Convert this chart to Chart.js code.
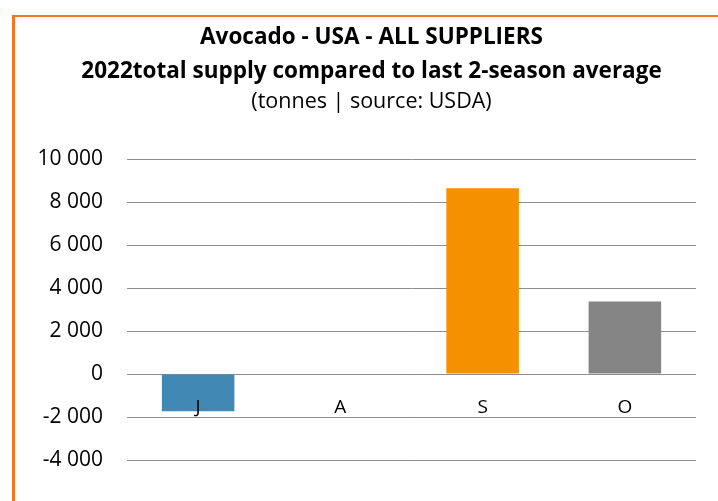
<!DOCTYPE html>
<html>
<head>
<meta charset="utf-8">
<script src="https://cdn.jsdelivr.net/npm/chart.js@4"></script>
<style>
  html, body { margin: 0; padding: 0; background: #ffffff; }
  body { width: 718px; height: 501px; position: relative; overflow: hidden; }
  #frame {
    position: absolute; left: 12px; top: 15px;
    width: 703px; height: 484px;
    border-left: 3px solid #F5761F; border-top: 2px solid #F5761F;
  }
  #c { display: block; }
</style>
</head>
<body>
<div id="frame"><canvas id="c" width="703" height="484"></canvas></div>
<script>
const titleLines = ['Avocado - USA - ALL SUPPLIERS', '2022total supply compared to last 2-season average'];
const subtitleText = '(tonnes | source: USDA)';
const categories = ['J', 'A', 'S', 'O'];
const values = [-1730, 0, 8650, 3380];
const barColors = ['#4189B4', '#4189B4', '#F59100', '#858585'];
const yTicks = [-4000, -2000, 0, 2000, 4000, 6000, 8000, 10000];

const fontFamily = "'Open Sans', sans-serif";
const fmt = v => String(Math.abs(v)).replace(/\B(?=(\d{3})+(?!\d))/g, ' ');

// The original chart's title block is centred over a slightly wider frame
const shiftTitles = {
  id: 'shiftTitles',
  afterLayout(chart) {
    chart.boxes.forEach(b => {
      if (!b.axis && b.options && 'text' in b.options) { b.left += 16; b.right += 16; }
    });
  }
};

new Chart(document.getElementById('c'), {
  type: 'bar',
  data: {
    labels: categories,
    datasets: [{
      data: values,
      backgroundColor: barColors,
      borderWidth: 0,
      barPercentage: 0.51,
      categoryPercentage: 1.0
    }]
  },
  plugins: [shiftTitles],
  options: {
    responsive: false,
    animation: false,
    layout: { padding: { left: 0, right: 22, top: 0, bottom: 41 } },
    plugins: {
      legend: { display: false },
      tooltip: { enabled: false },
      title: {
        display: true,
        text: titleLines,
        color: '#000',
        font: { family: fontFamily, size: 22.5, weight: 'bold', lineHeight: 1.5 },
        padding: { top: 4, bottom: 0 }
      },
      subtitle: {
        display: true,
        text: subtitleText,
        color: '#000',
        font: { family: fontFamily, size: 21.5, weight: 'normal', lineHeight: 1.2 },
        padding: { top: 0, bottom: 45 }
      }
    },
    scales: {
      x: {
        position: { y: 0 },
        grid: { display: false, drawTicks: false },
        border: { display: false },
        ticks: {
          z: 1,
          color: '#000',
          font: { family: fontFamily, size: 19 },
          padding: 22,
          maxRotation: 0
        }
      },
      y: {
        min: -4000,
        max: 10000,
        afterBuildTicks: s => { s.ticks = yTicks.map(v => ({ value: v })); },
        afterFit: s => { s.width = 112; },
        grid: { color: '#8E8E8E', lineWidth: 1, drawTicks: false },
        border: { display: false },
        ticks: {
          color: '#000',
          font: { family: fontFamily, size: 21 },
          padding: 24,
          callback: v => (v < 0 ? '-' : '') + fmt(v)
        }
      }
    }
  }
});
</script>
</body>
</html>
